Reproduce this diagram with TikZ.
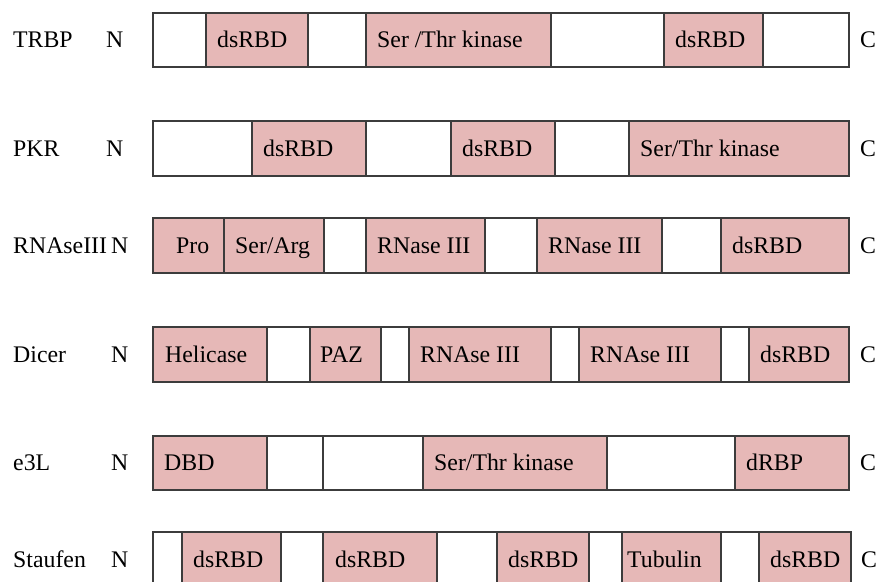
\documentclass[tikz,border=0pt]{standalone}
\usepackage{fontspec}
\setmainfont{Liberation Serif}
\definecolor{dompink}{HTML}{E6B8B7}
\definecolor{edgegray}{HTML}{3C3C3C}
\tikzset{
  seg/.style={draw=edgegray, line width=1.2pt},
  txt/.style={anchor=base west, inner sep=0pt, font=\fontsize{23.8}{28}\selectfont, text=black},
}
\begin{document}
\begin{tikzpicture}[x=1pt, y=-1pt]
\useasboundingbox (0,0) rectangle (878,581);
\clip (0,0) rectangle (878,581);

% ---- TRBP ----
\def\rowtop{13}\def\rowbot{67}\def\bl{47.5}
\foreach \a/\b/\f in {153/206/white, 206/308/dompink, 308/366/white, 366/551/dompink, 551/664/white, 664/763/dompink, 763/849/white}
  {\filldraw[seg, fill=\f] (\a,\rowtop) rectangle (\b,\rowbot);}
\node[txt] (trbp) at (13,\bl) {TRBP};
\node[txt] (trbpN) at (106,\bl) {N};
\node[txt] (trbpC) at (860,\bl) {C};
\node[txt] (trbp1) at (217,\bl) {dsRBD};
\node[txt] (trbp2) at (377,\bl) {Ser /Thr kinase};
\node[txt] (trbp3) at (675,\bl) {dsRBD};

% ---- PKR ----
\def\rowtop{121}\def\rowbot{176}\def\bl{156}
\foreach \a/\b/\f in {153/252/white, 252/366/dompink, 366/451/white, 451/555/dompink, 555/629/white, 629/849/dompink}
  {\filldraw[seg, fill=\f] (\a,\rowtop) rectangle (\b,\rowbot);}
\node[txt] (pkr) at (13,\bl) {PKR};
\node[txt] (pkrN) at (106,\bl) {N};
\node[txt] (pkrC) at (860,\bl) {C};
\node[txt] (pkr1) at (263,\bl) {dsRBD};
\node[txt] (pkr2) at (462,\bl) {dsRBD};
\node[txt] (pkr3) at (640,\bl) {Ser/Thr kinase};

% ---- RNAseIII ----
\def\rowtop{218}\def\rowbot{273}\def\bl{253}
\foreach \a/\b/\f in {153/224/dompink, 224/324/dompink, 324/366/white, 366/485/dompink, 485/537/white, 537/662/dompink, 662/721/white, 721/849/dompink}
  {\filldraw[seg, fill=\f] (\a,\rowtop) rectangle (\b,\rowbot);}
\node[txt] (rn) at (13,\bl) {RNAseIII};
\node[txt] (rnN) at (111,\bl) {N};
\node[txt] (rnC) at (860,\bl) {C};
\node[txt] (rn1) at (176,\bl) {Pro};
\node[txt] (rn2) at (235,\bl) {Ser/Arg};
\node[txt] (rn3) at (377,\bl) {RNase III};
\node[txt] (rn4) at (548,\bl) {RNase III};
\node[txt] (rn5) at (732,\bl) {dsRBD};

% ---- Dicer ----
\def\rowtop{327}\def\rowbot{382}\def\bl{362}
\foreach \a/\b/\f in {153/267/dompink, 267/310/white, 310/381/dompink, 381/409/white, 409/551/dompink, 551/579/white, 579/721/dompink, 721/749/white, 749/849/dompink}
  {\filldraw[seg, fill=\f] (\a,\rowtop) rectangle (\b,\rowbot);}
\node[txt] (dc) at (13,\bl) {Dicer};
\node[txt] (dcN) at (111,\bl) {N};
\node[txt] (dcC) at (860,\bl) {C};
\node[txt] (dc1) at (165,\bl) {Helicase};
\node[txt] (dc2) at (320,\bl) {PAZ};
\node[txt] (dc3) at (420,\bl) {RNAse III};
\node[txt] (dc4) at (590,\bl) {RNAse III};
\node[txt] (dc5) at (760,\bl) {dsRBD};

% ---- e3L ----
\def\rowtop{436}\def\rowbot{490}\def\bl{470.5}
\foreach \a/\b/\f in {153/267/dompink, 267/323/white, 323/423/white, 423/607/dompink, 607/735/white, 735/849/dompink}
  {\filldraw[seg, fill=\f] (\a,\rowtop) rectangle (\b,\rowbot);}
\node[txt] (e3) at (13,\bl) {e3L};
\node[txt] (e3N) at (111,\bl) {N};
\node[txt] (e3C) at (860,\bl) {C};
\node[txt] (e31) at (164,\bl) {DBD};
\node[txt] (e32) at (434,\bl) {Ser/Thr kinase};
\node[txt] (e33) at (746,\bl) {dRBP};

% ---- Staufen ----
\def\rowtop{532}\def\rowbot{587}\def\bl{567}
\foreach \a/\b/\f in {153/182/white, 182/281/dompink, 281/323/white, 323/437/dompink, 437/497/white, 497/589/dompink, 589/622/white, 622/721/dompink, 721/759/white, 759/851/dompink}
  {\filldraw[seg, fill=\f] (\a,\rowtop) rectangle (\b,\rowbot);}
\node[txt] (st) at (13,\bl) {Staufen};
\node[txt] (stN) at (111,\bl) {N};
\node[txt] (stC) at (861,\bl) {C};
\node[txt] (st1) at (193,\bl) {dsRBD};
\node[txt] (st2) at (335,\bl) {dsRBD};
\node[txt] (st3) at (508,\bl) {dsRBD};
\node[txt] (st4) at (627,\bl) {Tubulin};
\node[txt] (st5) at (770,\bl) {dsRBD};
\end{tikzpicture}
\end{document}
